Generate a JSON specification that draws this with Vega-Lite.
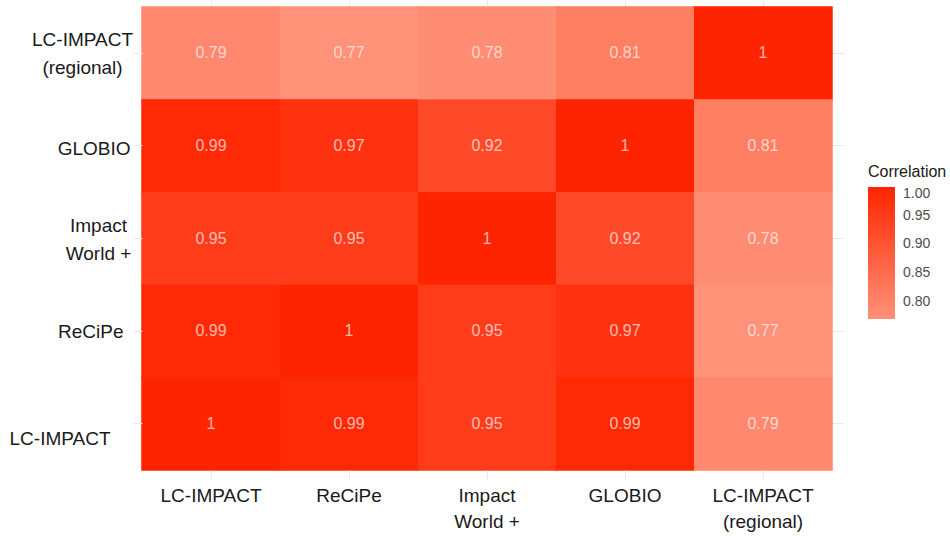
{
  "$schema": "https://vega.github.io/schema/vega-lite/v6.json",
  "width": 690,
  "height": 463,
  "autosize": "none",
  "padding": {"left": 142, "top": 7, "right": 118, "bottom": 66},
  "background": "white",
  "config": {"view": {"stroke": null}, "font": "Liberation Sans"},
  "data": {"values": [
    {"x": "LC-IMPACT", "y": "LC-IMPACT|(regional)", "r": 0.79},
    {"x": "ReCiPe", "y": "LC-IMPACT|(regional)", "r": 0.77},
    {"x": "Impact|World +", "y": "LC-IMPACT|(regional)", "r": 0.78},
    {"x": "GLOBIO", "y": "LC-IMPACT|(regional)", "r": 0.81},
    {"x": "LC-IMPACT|(regional)", "y": "LC-IMPACT|(regional)", "r": 1},
    {"x": "LC-IMPACT", "y": "GLOBIO", "r": 0.99},
    {"x": "ReCiPe", "y": "GLOBIO", "r": 0.97},
    {"x": "Impact|World +", "y": "GLOBIO", "r": 0.92},
    {"x": "GLOBIO", "y": "GLOBIO", "r": 1},
    {"x": "LC-IMPACT|(regional)", "y": "GLOBIO", "r": 0.81},
    {"x": "LC-IMPACT", "y": "Impact|World +", "r": 0.95},
    {"x": "ReCiPe", "y": "Impact|World +", "r": 0.95},
    {"x": "Impact|World +", "y": "Impact|World +", "r": 1},
    {"x": "GLOBIO", "y": "Impact|World +", "r": 0.92},
    {"x": "LC-IMPACT|(regional)", "y": "Impact|World +", "r": 0.78},
    {"x": "LC-IMPACT", "y": "ReCiPe", "r": 0.99},
    {"x": "ReCiPe", "y": "ReCiPe", "r": 1},
    {"x": "Impact|World +", "y": "ReCiPe", "r": 0.95},
    {"x": "GLOBIO", "y": "ReCiPe", "r": 0.97},
    {"x": "LC-IMPACT|(regional)", "y": "ReCiPe", "r": 0.77},
    {"x": "LC-IMPACT", "y": "LC-IMPACT", "r": 1},
    {"x": "ReCiPe", "y": "LC-IMPACT", "r": 0.99},
    {"x": "Impact|World +", "y": "LC-IMPACT", "r": 0.95},
    {"x": "GLOBIO", "y": "LC-IMPACT", "r": 0.99},
    {"x": "LC-IMPACT|(regional)", "y": "LC-IMPACT", "r": 0.79}
  ]},
  "resolve": {
    "axis": {"x": "independent", "y": "independent"},
    "scale": {"color": "independent"},
    "legend": {"color": "independent"}
  },
  "layer": [
    {
      "mark": {"type": "rect", "filled": false, "strokeWidth": 1.5},
      "encoding": {
        "x": {
          "field": "x", "type": "nominal",
          "sort": ["LC-IMPACT", "ReCiPe", "Impact|World +", "GLOBIO", "LC-IMPACT|(regional)"],
          "scale": {"paddingInner": 0, "paddingOuter": 0},
          "axis": null
        },
        "y": {
          "field": "y", "type": "nominal",
          "sort": ["LC-IMPACT|(regional)", "GLOBIO", "Impact|World +", "ReCiPe", "LC-IMPACT"],
          "scale": {"paddingInner": 0, "paddingOuter": 0},
          "axis": null
        },
        "color": {
          "field": "r", "type": "quantitative",
          "scale": {"domain": [0.77, 1], "range": ["#FF9278", "#FF2400"], "interpolate": "rgb"},
          "legend": null
        }
      }
    },
    {
      "mark": {"type": "rect"},
      "encoding": {
        "x": {
          "field": "x", "type": "nominal",
          "sort": ["LC-IMPACT", "ReCiPe", "Impact|World +", "GLOBIO", "LC-IMPACT|(regional)"],
          "scale": {"paddingInner": 0, "paddingOuter": 0},
          "axis": {
            "title": null, "labelAngle": 0, "labelExpr": "split(datum.label, '|')",
            "labelFontSize": 19, "labelColor": "#1a1a1a", "labelLineHeight": 26,
            "labelPadding": 7, "domain": false, "ticks": true, "tickColor": "#e8e8e8",
            "tickSize": 9, "grid": false, "labelBaseline": "top"
          }
        },
        "y": {
          "field": "y", "type": "nominal",
          "sort": ["LC-IMPACT|(regional)", "GLOBIO", "Impact|World +", "ReCiPe", "LC-IMPACT"],
          "scale": {"paddingInner": 0, "paddingOuter": 0},
          "axis": {
            "title": null, "labelExpr": "split(datum.label, '|')",
            "labelFontSize": 19, "labelColor": "#1a1a1a", "labelLineHeight": 28,
            "domain": false, "ticks": true, "tickColor": "#e8e8e8", "tickSize": 9, "grid": false,
            "labelAlign": {"condition": {"test": "indexof(datum.value, '|') >= 0", "value": "center"}, "value": "right"},
            "labelPadding": {"condition": [
              {"test": "datum.value == 'LC-IMPACT|(regional)'", "value": 51},
              {"test": "datum.value == 'GLOBIO'", "value": 3},
              {"test": "datum.value == 'Impact|World +'", "value": 35},
              {"test": "datum.value == 'ReCiPe'", "value": 10}
            ], "value": 23},
            "labelOffset": {"condition": [
              {"test": "indexof(datum.value, '|') >= 0", "value": -13},
              {"test": "datum.value == 'GLOBIO'", "value": 3},
              {"test": "datum.value == 'ReCiPe'", "value": 1}
            ], "value": 15}
          }
        },
        "color": {
          "field": "r", "type": "quantitative",
          "scale": {"domain": [0.77, 1], "range": ["#FF9278", "#FF2400"], "interpolate": "rgb"},
          "legend": {
            "title": "Correlation", "orient": "none", "legendX": 726, "legendY": 157,
            "gradientLength": 132, "gradientThickness": 27,
            "values": [0.8, 0.85, 0.9, 0.95, 1], "format": ".2f",
            "titleFontSize": 16, "titleFontWeight": "normal", "titleColor": "#1a1a1a",
            "labelFontSize": 14, "labelColor": "#4d4d4d", "labelOffset": 8,
            "titlePadding": 7, "gradientStrokeWidth": 0
          }
        }
      }
    },
    {
      "mark": {"type": "text", "fontSize": 16, "color": "white", "opacity": 0.65},
      "encoding": {
        "x": {
          "field": "x", "type": "nominal",
          "sort": ["LC-IMPACT", "ReCiPe", "Impact|World +", "GLOBIO", "LC-IMPACT|(regional)"],
          "axis": {"orient": "top", "title": null, "labels": false, "domain": false, "ticks": true, "tickColor": "#e8e8e8", "tickSize": 7, "grid": false}
        },
        "y": {
          "field": "y", "type": "nominal",
          "sort": ["LC-IMPACT|(regional)", "GLOBIO", "Impact|World +", "ReCiPe", "LC-IMPACT"],
          "axis": {"orient": "right", "title": null, "labels": false, "domain": false, "ticks": true, "tickColor": "#e8e8e8", "tickSize": 12, "grid": false}
        },
        "text": {"field": "r", "type": "quantitative"}
      }
    }
  ]
}
